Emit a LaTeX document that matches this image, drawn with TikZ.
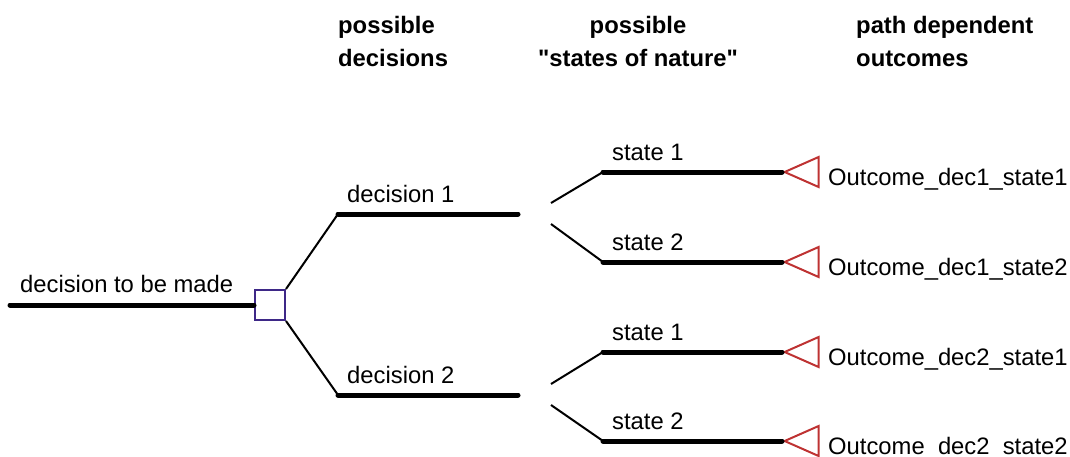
\documentclass[tikz,border=0pt]{standalone}
\usepackage{fontspec}
\setmainfont{Liberation Sans}
\usetikzlibrary{positioning,calc,shapes.geometric}
\definecolor{decblue}{RGB}{62,40,135}
\definecolor{endred}{RGB}{190,50,50}

\begin{document}
\begin{tikzpicture}[x=1pt, y=-1pt, font=\fontsize{23.8}{33}\selectfont,
    branch/.style={line width=5pt, line cap=round},
    link/.style={line width=2pt},
    lbl/.style={inner sep=0pt, anchor=base west},
    head/.style={inner sep=0pt, font=\fontsize{23.8}{33}\selectfont\bfseries},
    decbox/.style={draw=decblue, line width=2pt, minimum size=30pt, inner sep=0pt},
    endtri/.style={draw=endred, line width=2pt, isosceles triangle,
                   isosceles triangle stretches, shape border rotate=180,
                   minimum width=30pt, minimum height=34pt, inner sep=0pt}]
    \useasboundingbox (0,0) rectangle (1070,456);
    % column titles
    \node[head, align=left, anchor=base west] (hdec) at (338,66) {possible\\decisions};
    \node[head, align=center, anchor=base] (hnat) at (638,66)
      {possible\\\textquotedbl states of nature\textquotedbl};
    \node[head, align=left, anchor=base west] (hout) at (856,66) {path dependent\\outcomes};
    % decision node
    \coordinate (root) at (10,305);
    \node[decbox] (dec) at (270,305) {};
    \node[lbl] (lroot) at (20,292) {decision to be made};
    \draw[branch] (root) -- (dec);
    % decisions
    \coordinate (d1s) at (338,214);
    \coordinate (d1e) at (518,214);
    \coordinate (d2s) at (338,395);
    \coordinate (d2e) at (518,395);
    \node[lbl] (ld1) at (347,202) {decision 1};
    \node[lbl] (ld2) at (347,383) {decision 2};
    \draw[link] (dec.north east) -- (d1s);
    \draw[link] (dec.south east) -- (d2s);
    \draw[branch] (d1s) -- (d1e);
    \draw[branch] (d2s) -- (d2e);
    % states of nature
    \coordinate (c1a) at (551,203);
    \coordinate (c1b) at (551,224);
    \coordinate (c2a) at (551,384);
    \coordinate (c2b) at (551,405);
    \coordinate (s11) at (603,172);
    \coordinate (s12) at (603,262);
    \coordinate (s21) at (603,352);
    \coordinate (s22) at (603,441);
    \node[lbl] (ls11) at (612,160) {state 1};
    \node[lbl] (ls12) at (612,250) {state 2};
    \node[lbl] (ls21) at (612,340) {state 1};
    \node[lbl] (ls22) at (612,429) {state 2};
    \draw[link] (c1a) -- (s11);
    \draw[link] (c1b) -- (s12);
    \draw[link] (c2a) -- (s21);
    \draw[link] (c2b) -- (s22);
    % outcomes
    \node[endtri, anchor=apex] (o11) at (782,172) {};
    \node[endtri, anchor=apex] (o12) at (782,262) {};
    \node[endtri, anchor=apex] (o21) at (782,352) {};
    \node[endtri, anchor=apex] (o22) at (782,441) {};
    \draw[branch] (s11) -- (o11.apex);
    \draw[branch] (s12) -- (o12.apex);
    \draw[branch] (s21) -- (o21.apex);
    \draw[branch] (s22) -- (o22.apex);
    \node[lbl] (t11) at (828,185) {Outcome\_dec1\_state1};
    \node[lbl] (t12) at (828,275) {Outcome\_dec1\_state2};
    \node[lbl] (t21) at (828,365) {Outcome\_dec2\_state1};
    \node[lbl] (t22) at (828,454) {Outcome\_dec2\_state2};
\end{tikzpicture}
\end{document}
